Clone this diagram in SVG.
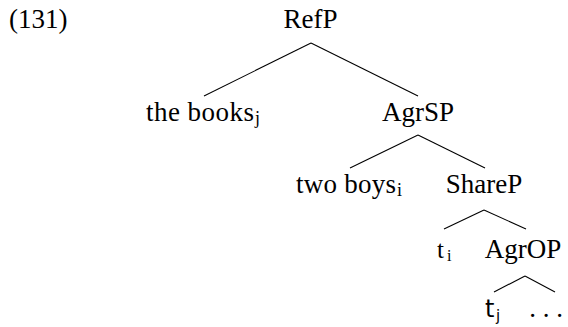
<svg xmlns="http://www.w3.org/2000/svg" width="568" height="327" viewBox="0 0 568 327">
<style>
text{font-family:"Liberation Serif","Times New Roman",serif;font-size:27px;fill:#000}
.sub{font-size:18px}
.edge{stroke:#000;stroke-width:1.1;fill:none}
</style>
<rect width="568" height="327" fill="#fff"/>
<text x="9" y="28">(131)</text>
<g id="connectors">
<line class="edge" x1="311" y1="43" x2="204" y2="96"/>
<line class="edge" x1="311" y1="43" x2="418" y2="96"/>
<line class="edge" x1="418" y1="135" x2="350" y2="168"/>
<line class="edge" x1="418" y1="135" x2="485" y2="168"/>
<line class="edge" x1="484" y1="210" x2="444" y2="229"/>
<line class="edge" x1="484" y1="210" x2="526" y2="229"/>
<line class="edge" x1="525" y1="276" x2="494" y2="292"/>
<line class="edge" x1="525" y1="276" x2="555" y2="292"/>
</g>
<g id="RefP"><text x="310.5" y="28" text-anchor="middle">RefP</text></g>
<g id="thebooks"><text x="146" y="121" textLength="108" lengthAdjust="spacing">the books</text><text x="255" y="124" class="sub">j</text></g>
<g id="AgrSP"><text x="418" y="121" text-anchor="middle">AgrSP</text></g>
<g id="twoboys"><text x="296" y="193" textLength="100" lengthAdjust="spacing">two boys</text><text x="397" y="196" class="sub">i</text></g>
<g id="ShareP"><text x="484" y="193" text-anchor="middle">ShareP</text></g>
<g id="ti"><text x="437" y="258" style="font-size:25px">t</text><text x="447" y="261" class="sub" style="font-size:16px">i</text></g>
<g id="AgrOP"><text x="523" y="258" text-anchor="middle">AgrOP</text></g>
<g id="tj"><text x="485" y="317" style="font-family:'DejaVu Sans',sans-serif;font-size:24px">t</text><text x="496" y="321" class="sub" style="font-family:'DejaVu Sans',sans-serif;font-size:15px">j</text></g>
<g id="dots"><text x="546" y="317" text-anchor="middle">. . .</text></g>
</svg>
